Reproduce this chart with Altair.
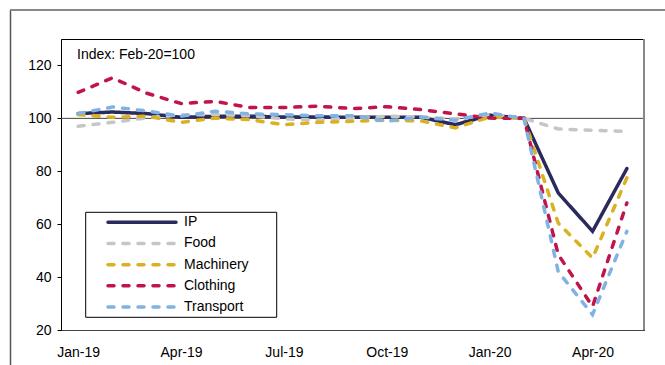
import altair as alt
import pandas as pd

# Monthly index values, Feb-20 = 100
months = ["Jan-19", "Feb-19", "Mar-19", "Apr-19", "May-19", "Jun-19", "Jul-19",
          "Aug-19", "Sep-19", "Oct-19", "Nov-19", "Dec-19", "Jan-20", "Feb-20",
          "Mar-20", "Apr-20", "May-20"]
tick_months = ["Jan-19", "Apr-19", "Jul-19", "Oct-19", "Jan-20", "Apr-20"]

series_names = ["IP", "Food", "Machinery", "Clothing", "Transport"]
ip = [101.8, 102.4, 101.8, 100.4, 100.8, 100.8, 100.5, 100.5, 100.4, 100.4,
      100.4, 97.6, 101.2, 100.0, 71.8, 57.3, 81.0]
food = [97.0, 98.5, 100.2, 101.4, 101.4, 101.0, 99.8, 99.4, 100.1, 100.8,
        100.5, 99.8, 101.4, 100.0, 96.0, 95.5, 95.1]
machinery = [101.4, 100.4, 100.8, 98.5, 100.1, 99.5, 97.6, 98.5, 98.9, 99.3,
             99.0, 96.4, 100.5, 100.0, 60.4, 47.2, 77.5]
clothing = [109.8, 115.3, 109.5, 105.6, 106.4, 104.1, 104.1, 104.6, 103.7, 104.4,
            103.3, 101.7, 100.1, 100.0, 48.5, 28.9, 68.0]
transport = [101.8, 104.3, 102.8, 100.8, 102.7, 101.7, 101.4, 101.0, 101.0, 98.9,
             100.5, 99.3, 102.0, 100.0, 42.0, 25.8, 57.3]

colors = ["#2a2a5c", "#c6c6c6", "#d9b122", "#c0144b", "#80b3e4"]
dashes = [[1, 0], [6, 9], [6, 9], [6, 9], [6, 9]]

rows = []
for name, vals in zip(series_names, [ip, food, machinery, clothing, transport]):
    for m, v in zip(months, vals):
        rows.append({"month": m, "series": name, "value": v})
df = pd.DataFrame(rows)

W, H = 583, 291
FONT = "Liberation Sans"
y_scale = alt.Scale(domain=[20, 130], nice=False, zero=False)
color_scale = alt.Scale(domain=series_names, range=colors)
dash_scale = alt.Scale(domain=series_names, range=dashes)

lines = alt.Chart(df).mark_line(strokeWidth=3.5, strokeCap="round").encode(
    x=alt.X("month:O", sort=months,
            scale=alt.Scale(type="point", padding=0.5),
            axis=alt.Axis(values=tick_months, title=None, labelAngle=0,
                          ticks=False, labelPadding=15, domainColor="#444")),
    y=alt.Y("value:Q", scale=y_scale,
            axis=alt.Axis(values=[20, 40, 60, 80, 100, 120], title=None,
                          grid=False, tickSize=4, tickColor="black",
                          labelPadding=6, domainColor="black")),
    color=alt.Color("series:N", scale=color_scale, legend=None),
    strokeDash=alt.StrokeDash("series:N", scale=dash_scale, legend=None),
)

# Reference line at 100
base_line = alt.Chart(pd.DataFrame({"ref": [100]})).mark_rule(
    color="#444", strokeWidth=1
).encode(y=alt.Y("ref:Q", scale=y_scale, axis=None))

note = alt.Chart(pd.DataFrame({"note": ["Index: Feb-20=100"]})).mark_text(
    align="left", baseline="middle", font=FONT, fontSize=14, color="black"
).encode(x=alt.value(16), y=alt.value(16), text="note:N")

# Legend box with one row per series
legend_df = pd.DataFrame({"series": series_names})
row_y = alt.Y("series:N", sort=series_names,
              scale=alt.Scale(type="point", domain=series_names,
                              range=[183.3, 268.0], padding=0),
              axis=None)
legend_box = alt.Chart(pd.DataFrame({"box": [0]})).mark_rect(
    fill="white", stroke="black", strokeWidth=1
).encode(x=alt.value(24.7), x2=alt.value(215.7),
         y=alt.value(173.3), y2=alt.value(278.3))
legend_lines = alt.Chart(legend_df).mark_rule(strokeWidth=3.5, strokeCap="round").encode(
    x=alt.value(47), x2=alt.value(115), y=row_y,
    color=alt.Color("series:N", scale=color_scale, legend=None),
    strokeDash=alt.StrokeDash("series:N", scale=dash_scale, legend=None),
)
legend_text = alt.Chart(legend_df).mark_text(
    align="left", baseline="middle", font=FONT, fontSize=14, color="black"
).encode(x=alt.value(123), y=row_y, text="series:N")

# Frame around the figure and the grey right edge of the plot
one = pd.DataFrame({"k": [0]})
frame_left = alt.Chart(one).mark_rule(color="#555", strokeWidth=1.5).encode(
    x=alt.value(-50.5), y=alt.value(-29), y2=alt.value(H + 40))
frame_top = alt.Chart(one).mark_rule(color="#888", strokeWidth=2).encode(
    x=alt.value(-51), x2=alt.value(W + 30), y=alt.value(-29))
right_edge = alt.Chart(one).mark_rule(color="#888", strokeWidth=2).encode(
    x=alt.value(W), y=alt.value(0), y2=alt.value(H))

chart = alt.layer(
    base_line, lines, note, legend_box, legend_lines, legend_text,
    frame_left, frame_top, right_edge
).resolve_scale(
    y="independent"
).properties(
    width=W, height=H,
    autosize=alt.AutoSizeParams(type="none"),
    padding={"left": 61, "top": 39, "right": 21, "bottom": 35},
).configure_view(
    stroke="black", strokeWidth=1
).configure_axis(
    labelFont=FONT, labelFontSize=14, labelColor="black"
)

chart.save("out.html", embed_options={"renderer": "svg", "actions": False})
